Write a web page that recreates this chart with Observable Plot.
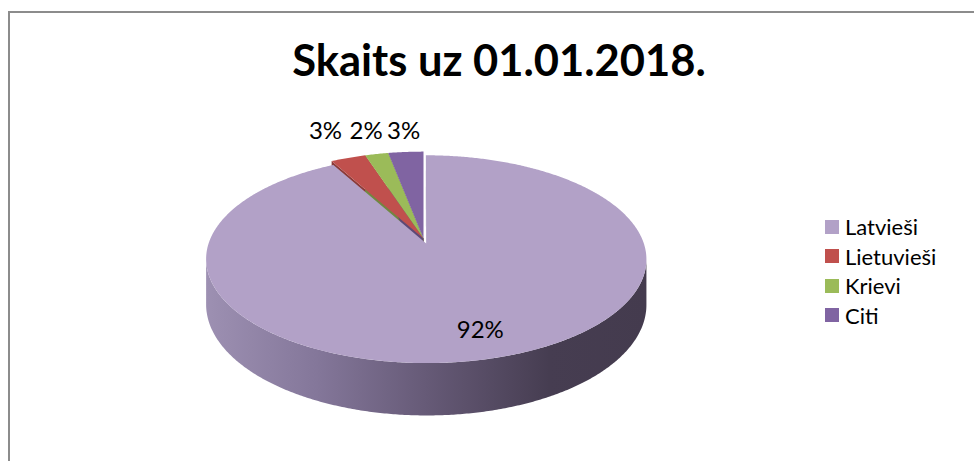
<!DOCTYPE html>
<html><head><meta charset="utf-8">
<script src="https://cdn.jsdelivr.net/npm/d3@7"></script>
<script src="https://cdn.jsdelivr.net/npm/@observablehq/plot@0.6"></script>
<style>
html,body{margin:0;padding:0;background:#fff;overflow:hidden;}
#wrap{position:relative;width:974px;height:461px;overflow:hidden;font-family:Lato,sans-serif;}
#frame{position:absolute;left:8px;top:11px;width:1000px;height:500px;border:2px solid #8c8c8c;box-sizing:border-box;}
#chart{position:absolute;left:0;top:0;}
#title{position:absolute;left:0;width:998px;top:38px;text-align:center;font-weight:700;font-size:43.5px;line-height:43.5px;color:#000;}
#legend{position:absolute;left:825px;top:212px;font-size:22px;color:#000;}
.item{display:flex;align-items:center;height:29.5px;white-space:nowrap;}
.sw{width:14px;height:14px;margin-right:6px;flex:none;}
</style></head><body>
<div id="wrap"><div id="frame"></div><div id="chart"></div><div id="title"></div><div id="legend"></div></div>
<script>
// ---- data ----
const title = "Skaits uz 01.01.2018.";
const categories = ["Latvieši", "Lietuvieši", "Krievi", "Citi"];
const shares = [92, 3, 2, 3];
const percentLabels = ["92%", "3%", "2%", "3%"];
const colors = ["#b2a1c7", "#c0504d", "#9bbb59", "#8064a2"];

// ---- layout / style constants ----
const W = 974, H = 461;
const CX = 423, CY = 238, RX = 216, RY = 100;   // pie centre and radii in px
const K = 0.151;        // perspective strength
const DEPTH = 0.441;    // thickness of the pie (in RY units)
const EXPLODE = {"Latvieši": 0.05};
const LABEL_ROW = 1.07; // outside label row above centre (RY units)

document.getElementById("title").textContent = title;

const total = d3.sum(shares);
let acc = 0;
const slices = categories.map((c, i) => {
  const t0 = acc / total * 2 * Math.PI; acc += shares[i];
  const t1 = acc / total * 2 * Math.PI;
  return {cat: c, t0, t1, tm: (t0 + t1) / 2, share: shares[i] / total, label: percentLabels[i], color: colors[i], ex: EXPLODE[c] || 0};
});

function pt(s, t, r) {
  const a = s.ex * Math.sin(s.tm) + r * Math.sin(t);
  const b = -s.ex * Math.cos(s.tm) - r * Math.cos(t);
  const w = 1 - K * b;
  return {x: a / w, y: b / w, w};
}
function angles(t0, t1) {
  const n = Math.max(2, Math.ceil((t1 - t0) / (Math.PI / 360)));
  return d3.range(n + 1).map(j => t0 + (t1 - t0) * j / n);
}

// top faces
const tops = [];
for (const s of slices) {
  const c = pt(s, 0, 0);
  tops.push({cat: s.cat, x: c.x, y: c.y});
  for (const t of angles(s.t0, s.t1)) { const p = pt(s, t, 1); tops.push({cat: s.cat, x: p.x, y: p.y}); }
}
// radial start faces (only visible as slivers)
const faces = [];
for (const s of slices) {
  const c = pt(s, 0, 0), p = pt(s, s.t0, 1);
  faces.push({cat: s.cat, x: c.x, y: c.y}, {cat: s.cat, x: p.x, y: p.y},
             {cat: s.cat, x: p.x, y: p.y + DEPTH / p.w}, {cat: s.cat, x: c.x, y: c.y + DEPTH / c.w});
}
// front walls
const tR = Math.PI / 2 + Math.asin(K), tL = 3 * Math.PI / 2 - Math.asin(K);
const walls = [];
for (const s of slices) {
  const a0 = Math.max(s.t0, tR), a1 = Math.min(s.t1, tL);
  if (a1 <= a0) continue;
  const up = angles(a0, a1).map(t => pt(s, t, 1));
  up.forEach(p => walls.push({cat: s.cat, x: p.x, y: p.y}));
  up.slice().reverse().forEach(p => walls.push({cat: s.cat, x: p.x, y: p.y + DEPTH / p.w}));
}
// labels
const labels = slices.map(s => {
  if (s.share > 0.1) {
    const p = pt(s, s.tm, 0.78);
    return {x: p.x, y: p.y, text: s.label, inside: true};
  }
  return {x: LABEL_ROW * Math.tan(s.tm), y: -LABEL_ROW, text: s.label, inside: false};
});

const darker = Object.fromEntries(slices.map(s => [s.cat, d3.color(s.color).darker(0.9).formatHex()]));

const chart = Plot.plot({
  width: W, height: H, margin: 0,
  x: {domain: [(0 - CX) / RX, (W - CX) / RX], axis: null},
  y: {domain: [(0 - CY) / RY, (H - CY) / RY], reverse: true, axis: null},
  color: {domain: categories, range: colors},
  style: {background: "transparent", fontFamily: "Lato, sans-serif"},
  marks: [
    ...slices.map(s => Plot.line(faces.filter(d => d.cat === s.cat), {x: "x", y: "y", fill: darker[s.cat], stroke: "none"})),
    Plot.line(walls, {x: "x", y: "y", z: "cat", fill: "url(#wallGrad)", stroke: "none"}),
    Plot.line(tops, {x: "x", y: "y", z: "cat", fill: "cat", stroke: "none"}),
    Plot.text(labels.filter(d => d.inside), {x: "x", y: "y", text: "text", fontSize: 24, fill: "#000", dx: 6}),
    Plot.text(labels.filter(d => !d.inside), {x: "x", y: "y", text: "text", fontSize: 24, fill: "#000", dx: 2})
  ]
});

const defs = d3.select(chart).insert("defs", ":first-child");
const g = defs.append("linearGradient").attr("id", "wallGrad").attr("x1", 0).attr("x2", 1).attr("y1", 0).attr("y2", 0);
[[0, "#9d90b2"], [0.25, "#84779a"], [0.5, "#665a77"], [0.78, "#463d51"], [1, "#443b4e"]]
  .forEach(([o, c]) => g.append("stop").attr("offset", o).attr("stop-color", c));

document.getElementById("chart").appendChild(chart);

// legend
const leg = d3.select("#legend");
categories.forEach((c, i) => {
  const row = leg.append("div").attr("class", "item");
  row.append("div").attr("class", "sw").style("background", colors[i]);
  row.append("span").text(c);
});
</script>
</body></html>
